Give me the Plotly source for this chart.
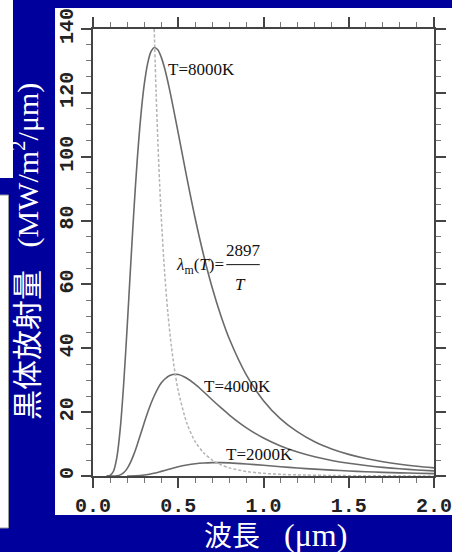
import plotly.graph_objects as go

# wavelength samples (um)
wl = [0.08, 0.10, 0.12, 0.14, 0.16, 0.18, 0.20, 0.22, 0.24, 0.26, 0.28, 0.30, 0.32, 0.34,
      0.36, 0.38, 0.40, 0.42, 0.45, 0.50, 0.55, 0.60, 0.65, 0.70, 0.75, 0.80, 0.90, 1.00,
      1.10, 1.20, 1.30, 1.40, 1.50, 1.60, 1.70, 1.80, 1.90, 2.00]

# curve labelled T=8000K
y_8000 = [0.006, 0.18, 1.49, 5.84, 14.9, 28.9, 46.3, 65.1, 83.3, 99.4, 112.5, 122.4, 129.1, 132.9,
          134.2, 133.5, 131.2, 127.7, 120.8, 107.4, 93.5, 80.5, 68.9, 58.8, 50.2, 42.9, 31.6, 23.6,
          17.9, 13.8, 10.7, 8.47, 6.77, 5.47, 4.46, 3.67, 3.05, 2.55]

# curve labelled T=4000K
y_4000 = [0.0, 0.0005, 0.01, 0.08, 0.35, 1.03, 2.31, 4.27, 6.85, 9.90, 13.2, 16.6, 19.8, 22.7,
          25.2, 27.4, 29.1, 30.3, 31.5, 31.8, 30.6, 28.7, 26.3, 23.8, 21.4, 19.1, 15.1, 11.9,
          9.43, 7.51, 6.02, 4.87, 3.97, 3.27, 2.71, 2.26, 1.90, 1.61]

# curve labelled T=2000K
wl_2000 = [0.20, 0.25, 0.30, 0.35, 0.40, 0.45, 0.50, 0.55, 0.60, 0.65, 0.70, 0.75, 0.80, 0.90,
           1.00, 1.10, 1.20, 1.30, 1.40, 1.50, 1.60, 1.70, 1.80, 1.90, 2.00]
y_2000 = [0.006, 0.07, 0.30, 0.78, 1.45, 2.18, 2.87, 3.42, 3.83, 4.07, 4.18, 4.18, 4.10, 3.78,
          3.36, 2.92, 2.51, 2.15, 1.84, 1.57, 1.34, 1.15, 0.99, 0.85, 0.74]

# dashed peak locus  lambda_m(T) = 2897/T
wl_peak = [0.359, 0.37, 0.38, 0.39, 0.40, 0.42, 0.44, 0.46, 0.48, 0.50, 0.55, 0.60, 0.65, 0.70,
           0.75, 0.80, 0.90, 1.00, 1.10, 1.20, 1.40, 1.60, 1.80, 2.00]
y_peak = [140.0, 120.3, 105.3, 92.5, 81.5, 63.8, 50.6, 40.5, 32.7, 26.7, 16.6, 10.7, 7.19, 4.96,
          3.52, 2.55, 1.41, 0.83, 0.52, 0.34, 0.16, 0.08, 0.04, 0.03]

curve_labels = ["T=8000K", "T=4000K", "T=2000K"]
x_ticks = [0.0, 0.5, 1.0, 1.5, 2.0]
x_ticktext = ["0.0", "0.5", "1.0", "1.5", "2.0"]
y_ticks = [0, 20, 40, 60, 80, 100, 120, 140]

NAVY = "#00009c"
AX = "#444444"
CURVE = "#6a6a6a"

fig = go.Figure()
for xs, ys in [(wl, y_8000), (wl, y_4000), (wl_2000, y_2000)]:
    fig.add_trace(go.Scatter(x=xs, y=ys, mode="lines",
                             line=dict(color=CURVE, width=1.6, shape="spline", smoothing=0.8),
                             showlegend=False, hoverinfo="skip"))
fig.add_trace(go.Scatter(x=wl_peak, y=y_peak, mode="lines",
                         line=dict(color="#b4b4b4", width=1.5, dash="3px,2px", shape="spline", smoothing=0.8),
                         showlegend=False, hoverinfo="skip"))

tickfont = dict(family="Liberation Mono", size=20, color="#222222", weight="bold")

fig.update_layout(
    width=452, height=552,
    margin=dict(l=93, r=18, t=29, b=76, autoexpand=False),
    paper_bgcolor=NAVY, plot_bgcolor="white",
    showlegend=False,
    xaxis=dict(range=[0, 2], tickvals=x_ticks, ticktext=x_ticktext, showgrid=False, zeroline=False,
               automargin=False, ticklabeloverflow="allow",
               showline=True, linecolor=AX, linewidth=2, mirror="ticks",
               ticks="outside", ticklen=10, tickwidth=2, tickcolor=AX, tickfont=tickfont,
               minor=dict(dtick=0.1, ticks="outside", ticklen=5, tickwidth=1, tickcolor="#777777")),
    yaxis=dict(range=[0, 140], tickvals=y_ticks, showgrid=False, zeroline=False,
               automargin=False, ticklabeloverflow="allow",
               showline=True, linecolor=AX, linewidth=2, mirror="ticks",
               ticks="outside", ticklen=10, tickwidth=2, tickcolor=AX, tickfont=tickfont,
               tickangle=-90,
               minor=dict(dtick=5, ticks="outside", ticklen=5, tickwidth=1, tickcolor="#777777")),
)

# white panel behind the chart and decorations on the left
fig.add_shape(type="rect", xref="paper", yref="paper", x0=-0.1114, x1=1.06, y0=-0.0872, y1=1.047,
              fillcolor="white", line=dict(width=0), layer="below")
fig.add_shape(type="rect", xref="paper", yref="paper", x0=-0.30, x1=-0.2346, y0=0.6667, y1=1.07,
              fillcolor="white", line=dict(width=0), layer="below")
fig.add_shape(type="rect", xref="paper", yref="paper", x0=-0.30, x1=-0.2478, y0=-0.1163, y1=0.6286,
              fillcolor="white", line=dict(width=1, color="#9a9a9a"), layer="below")

# axis titles
title_font = dict(family="Liberation Serif, Noto Sans CJK JP", size=30, color="white")
fig.add_annotation(xref="paper", yref="paper", x=-0.1994, y=0.501, textangle=-90,
                   text="黒体放射量\u00a0\u00a0\u00a0(MW/m<sup>2</sup>/μm)", showarrow=False,
                   font=title_font, xanchor="center", yanchor="middle")
fig.add_annotation(xref="paper", yref="paper", x=0.534, y=-0.131,
                   text="<span style='font-size:28px'>波長</span>\u00a0\u00a0\u00a0(μm)", showarrow=False,
                   font=dict(family="Liberation Serif, Noto Sans CJK JP", size=32, color="white"),
                   xanchor="center", yanchor="middle")

# curve labels
label_font = dict(family="Liberation Serif", size=17, color="#111111")
for txt, (lx, ly) in zip(curve_labels, [(0.639, 127.2), (0.850, 27.9), (0.979, 6.6)]):
    fig.add_annotation(x=lx, y=ly, text=txt, showarrow=False, font=label_font,
                       xanchor="center", yanchor="middle")

# formula
fig.add_annotation(x=0.628, y=65.8, text="<i>λ</i><sub>m</sub>(<i>T</i>)=", showarrow=False,
                   font=label_font, xanchor="center", yanchor="middle")
fig.add_annotation(x=0.880, y=70.6, text="2897", showarrow=False,
                   font=label_font, xanchor="center", yanchor="middle")
fig.add_annotation(x=0.868, y=60.0, text="<i>T</i>", showarrow=False,
                   font=label_font, xanchor="center", yanchor="middle")
fig.add_shape(type="line", x0=0.782, x1=0.978, y0=66.2, y1=66.2, line=dict(color="#111111", width=1))

fig.write_html("out.html")
